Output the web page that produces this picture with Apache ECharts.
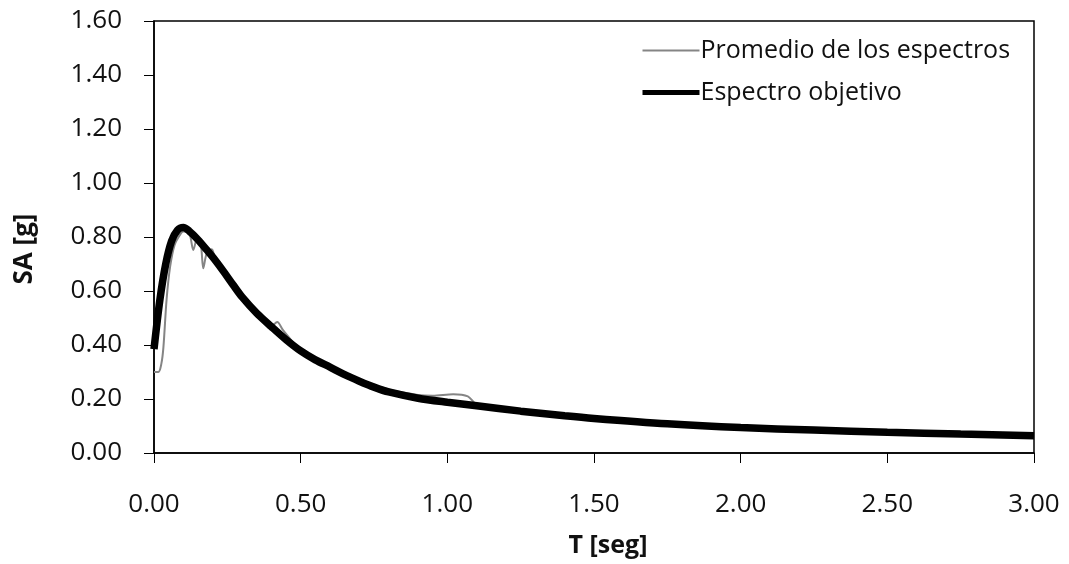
<!DOCTYPE html>
<html>
<head>
<meta charset="utf-8">
<script src="https://cdn.jsdelivr.net/npm/echarts@6/dist/echarts.min.js"></script>
<style>
  html, body { margin: 0; padding: 0; background: #fff; }
  #chart { width: 1069px; height: 564px; }
</style>
</head>
<body>
<div id="chart"></div>
<script>
// Espectro objetivo (periodo T [seg], SA [g])
const objT = [0, 0.02, 0.04, 0.06, 0.08, 0.10, 0.12, 0.15, 0.18, 0.21, 0.24, 0.27, 0.30, 0.35, 0.40, 0.45, 0.50, 0.55, 0.60, 0.65, 0.70, 0.75, 0.80, 0.90, 1.00, 1.10, 1.25, 1.40, 1.50, 1.75, 2.00, 2.25, 2.50, 2.75, 3.00]
const objSA = [0.385, 0.567, 0.70, 0.785, 0.825, 0.835, 0.822, 0.79, 0.752, 0.712, 0.668, 0.622, 0.578, 0.518, 0.468, 0.42, 0.378, 0.345, 0.318, 0.29, 0.266, 0.244, 0.226, 0.203, 0.188, 0.175, 0.155, 0.138, 0.128, 0.108, 0.094, 0.085, 0.077, 0.07, 0.064]

// Promedio de los espectros
const promT = [0, 0.015, 0.025, 0.032, 0.043, 0.055, 0.07, 0.09, 0.10, 0.12, 0.134, 0.148, 0.16, 0.168, 0.18, 0.197, 0.21, 0.24, 0.27, 0.30, 0.35, 0.40, 0.42, 0.44, 0.50, 0.55, 0.60, 0.65, 0.70, 0.80, 0.90, 0.95, 1.02, 1.07, 1.10, 1.25, 1.50, 2.00, 2.50, 3.00]
const promSA = [0.30, 0.30, 0.33, 0.39, 0.57, 0.69, 0.77, 0.81, 0.82, 0.815, 0.752, 0.80, 0.77, 0.684, 0.74, 0.755, 0.715, 0.67, 0.62, 0.57, 0.52, 0.47, 0.485, 0.455, 0.38, 0.35, 0.31, 0.285, 0.27, 0.235, 0.215, 0.212, 0.218, 0.21, 0.18, 0.155, 0.128, 0.094, 0.077, 0.064]

const seriesNames = ['Promedio de los espectros', 'Espectro objetivo']

function pairs(xs, ys) {
  return xs.map((x, i) => [x, ys[i]])
}

const font = 'Open Sans'
let myChart = echarts.init(document.getElementById('chart'))

let option = {
  animation: false,
  grid: {
    left: 154,
    right: 35,
    top: 21,
    bottom: 111,
    show: true,
    borderColor: '#000',
    borderWidth: 1.5
  },
  legend: {
    orient: 'vertical',
    left: 640,
    top: 38,
    padding: 0,
    itemWidth: 57,
    itemHeight: 14,
    itemGap: 17,
    itemStyle: { opacity: 0 },
    textStyle: { fontFamily: font, fontSize: 25, color: '#111', padding: [0, 0, 0, -4] },
    data: [
      { name: seriesNames[0], lineStyle: { width: 2, color: '#858585' } },
      { name: seriesNames[1], lineStyle: { width: 5, color: '#000' } }
    ]
  },
  xAxis: {
    type: 'value',
    min: 0,
    max: 3,
    interval: 0.5,
    name: 'T [seg]',
    nameLocation: 'middle',
    nameGap: 80,
    nameTextStyle: { fontFamily: font, fontSize: 25, fontWeight: 'bold', color: '#111', padding: [0, 0, 0, 28] },
    axisLine: { lineStyle: { color: '#000', width: 1.5 } },
    axisTick: { show: true, length: 10, lineStyle: { color: '#000' } },
    axisLabel: {
      fontFamily: font, fontSize: 26, color: '#111', margin: 39,
      formatter: v => v.toFixed(2)
    },
    splitLine: { show: false }
  },
  yAxis: {
    type: 'value',
    min: 0,
    max: 1.6,
    interval: 0.2,
    name: 'SA [g]',
    nameLocation: 'middle',
    nameGap: 116,
    nameTextStyle: { fontFamily: font, fontSize: 26, fontWeight: 'bold', color: '#111', padding: [0, 24, 0, 0] },
    axisLine: { show: true, lineStyle: { color: '#000', width: 1.5 } },
    axisTick: { show: true, length: 10, lineStyle: { color: '#000' } },
    axisLabel: {
      fontFamily: font, fontSize: 26, color: '#111', margin: 32,
      formatter: v => v.toFixed(2)
    },
    splitLine: { show: false }
  },
  series: [
    {
      name: seriesNames[0],
      type: 'line',
      data: pairs(promT, promSA),
      showSymbol: false,
      symbol: 'none',
      smooth: 0.3,
      lineStyle: { color: '#858585', width: 2 },
      itemStyle: { color: '#858585' },
      z: 2
    },
    {
      name: seriesNames[1],
      type: 'line',
      data: pairs(objT, objSA),
      showSymbol: false,
      symbol: 'none',
      smooth: 0.3,
      lineStyle: { color: '#000', width: 7.5 },
      itemStyle: { color: '#000' },
      z: 3
    }
  ]
}

myChart.setOption(option)
</script>
</body>
</html>
